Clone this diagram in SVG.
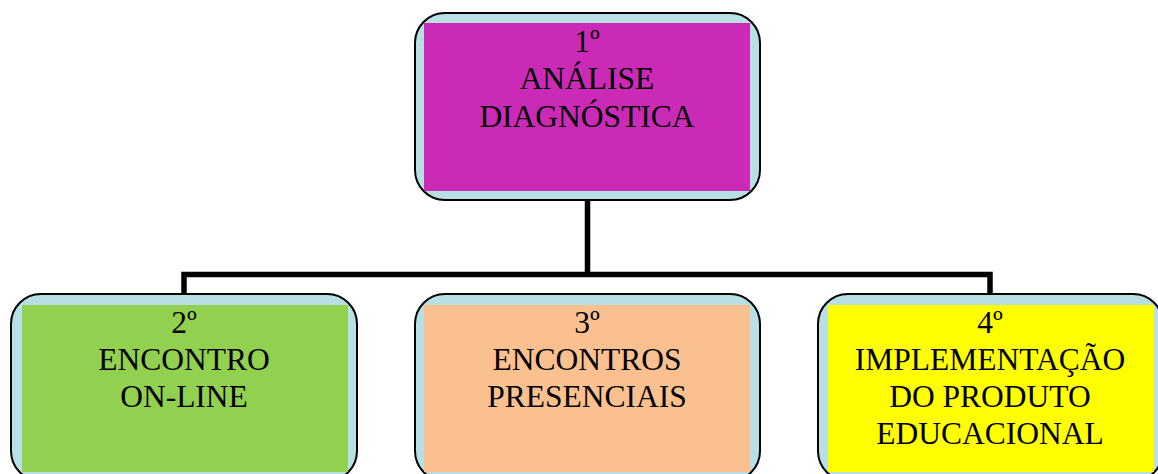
<svg xmlns="http://www.w3.org/2000/svg" width="1158" height="474" viewBox="0 0 1158 474">
<style>
.outer{fill:#b8dfe3;stroke:#000;stroke-width:2}
.t{font-family:"Liberation Serif","Times New Roman",serif;font-size:31.5px;fill:#000;text-anchor:middle}
.conn{fill:none;stroke:#000;stroke-width:5.5;stroke-linecap:butt;stroke-linejoin:miter}
</style>
<rect width="1158" height="474" fill="#fff"/>
<g id="connectors">
<path class="conn" d="M587.5 200 V274.5"/>
<path class="conn" d="M184 294 V274.5 H990 V294"/>
</g>
<g id="node1">
<rect class="outer" x="415" y="13" width="345" height="187" rx="30"/>
<rect x="424" y="23" width="326" height="168" fill="#ca2ab5"/>
<text class="t" x="587" y="52">1º</text>
<text class="t" x="587" y="89">ANÁLISE</text>
<text class="t" x="587" y="127">DIAGNÓSTICA</text>
</g>
<g id="node2">
<rect class="outer" x="11" y="294" width="346" height="187" rx="30"/>
<rect x="22" y="305" width="326" height="167" fill="#92d050"/>
<text class="t" x="184" y="333">2º</text>
<text class="t" x="184" y="370">ENCONTRO</text>
<text class="t" x="184" y="407">ON-LINE</text>
</g>
<g id="node3">
<rect class="outer" x="415" y="294" width="345" height="187" rx="30"/>
<rect x="424" y="305" width="326" height="167" fill="#fac090"/>
<text class="t" x="587" y="333">3º</text>
<text class="t" x="587" y="370">ENCONTROS</text>
<text class="t" x="587" y="407">PRESENCIAIS</text>
</g>
<g id="node4">
<rect class="outer" x="818" y="294" width="345" height="187" rx="30"/>
<rect x="828" y="305" width="326" height="167" fill="#ffff00"/>
<text class="t" x="990" y="333">4º</text>
<text class="t" x="990" y="370">IMPLEMENTAÇÃO</text>
<text class="t" x="990" y="407">DO PRODUTO</text>
<text class="t" x="990" y="444">EDUCACIONAL</text>
</g>
</svg>
